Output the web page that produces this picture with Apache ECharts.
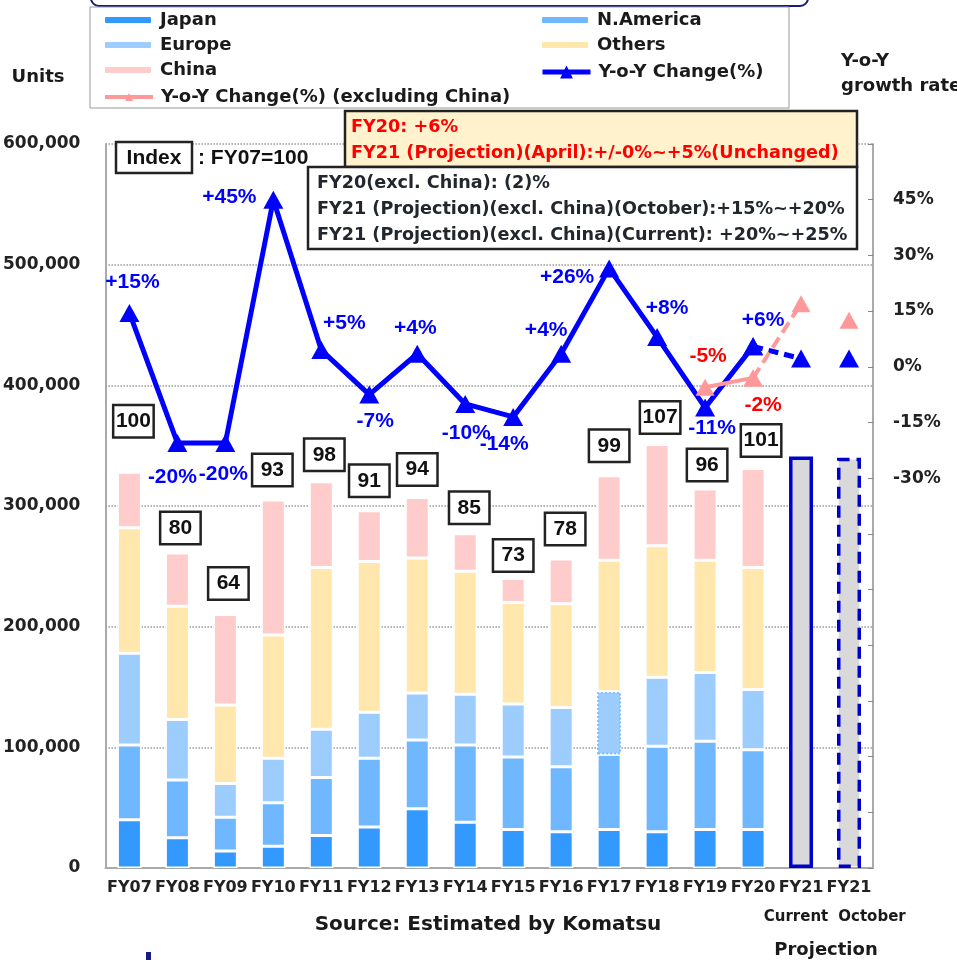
<!DOCTYPE html>
<html>
<head>
<meta charset="utf-8">
<script src="https://cdn.jsdelivr.net/npm/echarts@6/dist/echarts.min.js"></script>
<style>
html,body{margin:0;padding:0;background:#fff;}
#chart{width:957px;height:960px;}
</style>
</head>
<body>
<div id="chart"></div>
<script>
// 区分
var categories = ['FY07','FY08','FY09','FY10','FY11','FY12','FY13','FY14','FY15','FY16','FY17','FY18','FY19','FY20','FY21','FY21'];

// 台数（千台単位で読み取り）
var japan   = [40000,25000,14000,18000,27000,34000,49000,38000,32000,30000,32000,30000,32000,32000];
var america = [62000,48000,28000,36000,48000,57000,57000,64000,60000,54000,62000,71000,73000,66000];
var europe  = [76000,50000,28000,37000,40000,38000,39000,42000,44000,49000,52000,57000,57000,50000];
var others  = [104000,94000,65000,102000,134000,125000,112000,102000,84000,86000,109000,109000,93000,101000];
var china   = [46000,44000,75000,112000,71000,42000,50000,31000,20000,37000,70000,84000,59000,82000];
var projCurrent = 341000;
var projOctober = 340000;

var indexLabels = ['100','80','64','93','98','91','94','85','73','78','99','107','96','101'];

// 前年比
var yoy = [14.5,-20.5,-20.5,45,4.5,-7.5,3.5,-10,-13.5,3.5,26.5,8,-11,5.5];
var yoyLabels = ['+15%','-20%','-20%','+45%','+5%','-7%','+4%','-10%','-14%','+4%','+26%','+8%','-11%','+6%'];
var yoyCurrent = 2.2;
var yoyOctober = 2.2;

// 前年比（中国除く）FY19, FY20
var exChina = [-5.5,-3];
var exChinaLabels = ['-5%','-2%'];
var exChinaCurrent = 17;
var exChinaOctober = 12.5;

var rightTicks = [-30,-15,0,15,30,45];

// label layout (not data)
var yoyLabelOffset = [[3,-31],[-5,34],[-2,31],[-44,-2],[23,-27],[6,27],[-2,-26],[1,29],[-9,27],[-15,-24],[-42,9],[10,-29],[7,21],[10,-26]];
var exLabelOffset = [[3,-31],[10,27]];
var idxGap = [36,10,16,15,12,15,13,11,8,15,15,12,9,13];
var idxDx = [4,3,3,-1,3,0,0,4,0,4,0,3,2,8];

var ARIAL = 'Liberation Sans, Arial, sans-serif';
var DEJA = 'DejaVu Sans, sans-serif';
var N = categories.length;

function fill(arr, start){
	var out = [];
	for(var i=0;i<N;i++){
		var k = i - start;
		out.push(k>=0 && k<arr.length ? arr[k] : '-');
	}
	return out;
}
function only(idx, v){
	var out = [];
	for(var i=0;i<N;i++){ out.push(i===idx ? v : '-'); }
	return out;
}

var myChart = echarts.init(document.getElementById('chart'));

function barSeries(name, data, color){
	return {
		name:name, type:'bar', stack:'total', barWidth:24,
		itemStyle:{color:color, borderColor:'#fff', borderWidth:1.5},
		data:fill(data,0), z:2
	};
}

var europeSeries = barSeries('Europe', europe, '#9dcdff');
europeSeries.data[10] = {value:europe[10], itemStyle:{borderColor:'#80bfff', borderType:'dotted', borderWidth:2}};

var chinaSeries = barSeries('China', china, '#ffcccc');
chinaSeries.data = chinaSeries.data.map(function(v,i){
	if(v==='-') return v;
	return {value:v, label:{distance:idxGap[i], offset:[idxDx[i],0]}};
});
chinaSeries.label = {
	show:true, position:'top',
	formatter:function(p){ return indexLabels[p.dataIndex]; },
	fontFamily:ARIAL, fontWeight:'bold', fontSize:21, color:'#111',
	backgroundColor:'#fff', borderColor:'#222', borderWidth:2.5,
	width:36, align:'center', lineHeight:22, padding:[4,1,4,1]
};

var projData = only(14, {value:projCurrent, itemStyle:{borderType:'solid'}});
projData[15] = {value:projOctober, itemStyle:{borderType:[12,7]}};

var yoyData = fill(yoy,0).map(function(v,i){
	if(v==='-') return v;
	return {value:v, label:{offset:yoyLabelOffset[i]}};
});
var exData = fill(exChina,12).map(function(v,i){
	if(v==='-') return v;
	return {value:v, label:{offset:exLabelOffset[i-12]}};
});
var yoyProj = only(13, yoy[13]); yoyProj[14] = yoyCurrent;
var exProj = only(13, exChina[1]); exProj[14] = exChinaCurrent;

var lineLabel = {show:true, position:'inside', fontFamily:ARIAL, fontWeight:'bold', fontSize:21};
var legendText = {fontFamily:DEJA, fontWeight:'bold', fontSize:18, color:'#1a1a1a', lineHeight:20, padding:[0,0,0,3]};

function legend(left, top, h, data){
	return {
		orient:'vertical', left:left, top:top, padding:0,
		itemWidth:48, itemHeight:h, itemGap:5,
		selectedMode:false, data:data, textStyle:legendText
	};
}

myChart.setOption({
	animation:false,
	textStyle:{fontFamily:DEJA},
	grid:{left:103, right:84, top:144, bottom:92},
	legend:[
		legend(103, 9, 8, ['Japan','Europe','China']),
		legend(103, 85, 10, [{name:'Y-o-Y Change(%) (excluding China)', lineStyle:{width:4}}]),
		legend(540, 9, 8, ['N.America','Others']),
		legend(540, 60, 16, [{name:'Y-o-Y Change(%)', lineStyle:{width:5}}])
	].map(function(l, i){ l.top += (i % 2 === 0) ? 1 : 2; return l; }),
	xAxis:{
		type:'category', data:categories,
		axisLine:{lineStyle:{color:'#aaa', width:2}},
		axisTick:{inside:true, length:5, lineStyle:{color:'#aaa'}},
		axisLabel:{interval:0, margin:12, fontFamily:DEJA, fontWeight:'bold', fontSize:16, color:'#222'}
	},
	yAxis:[{
		type:'value', min:0, max:600000, interval:100000,
		axisLine:{show:true, lineStyle:{color:'#aaa', width:2}},
		axisTick:{show:false},
		axisLabel:{margin:25, fontFamily:DEJA, fontWeight:'bold', fontSize:17, color:'#222',
			formatter:function(v){ return v.toLocaleString('en-US'); }},
		splitLine:{lineStyle:{color:'#999', type:'dotted', width:1.5}}
	},{
		type:'value', position:'right', min:-135, max:60, interval:15,
		axisLine:{show:true, lineStyle:{color:'#aaa', width:2}},
		axisTick:{show:true, inside:true, length:5, lineStyle:{color:'#888'}},
		axisLabel:{margin:20, fontFamily:DEJA, fontWeight:'bold', fontSize:17, color:'#222',
			formatter:function(v){ return rightTicks.indexOf(v)>=0 ? v+'%' : ''; }},
		splitLine:{show:false}
	}],
	series:[
		barSeries('Japan', japan, '#3399ff'),
		barSeries('N.America', america, '#6fb7ff'),
		europeSeries,
		barSeries('Others', others, '#ffe7ad'),
		chinaSeries,
		{
			name:'Projection', type:'bar', stack:'total', barWidth:22, z:2,
			itemStyle:{color:'#d9d9dc', borderColor:'#0000cc', borderWidth:3.5},
			data:projData
		},
		{
			name:'Y-o-Y Change(%)', type:'line', yAxisIndex:1, z:5,
			symbol:'triangle', symbolSize:[20,18],
			lineStyle:{color:'#0000ff', width:5}, itemStyle:{color:'#0000ff'},
			label:Object.assign({color:'#0000ff', formatter:function(p){ return yoyLabels[p.dataIndex]; }}, lineLabel),
			data:yoyData
		},
		{
			name:'yoyProj', type:'line', yAxisIndex:1, z:5,
			symbol:'triangle', symbolSize:[20,18],
			lineStyle:{color:'#0000ff', width:5, type:[10,6]}, itemStyle:{color:'#0000ff'},
			data:yoyProj
		},
		{
			name:'yoyOct', type:'line', yAxisIndex:1, z:5,
			symbol:'triangle', symbolSize:[20,18], showSymbol:true,
			itemStyle:{color:'#0000ff'},
			data:only(15, yoyOctober)
		},
		{
			name:'exProj', type:'line', yAxisIndex:1, z:6,
			symbol:'triangle', symbolSize:[19,17],
			lineStyle:{color:'#ff9999', width:4, type:[12,6]}, itemStyle:{color:'#ff9999'},
			data:exProj
		},
		{
			name:'Y-o-Y Change(%) (excluding China)', type:'line', yAxisIndex:1, z:6,
			symbol:'triangle', symbolSize:[19,17],
			lineStyle:{color:'#ff9999', width:4}, itemStyle:{color:'#ff9999'},
			label:Object.assign({color:'#ff0000', formatter:function(p){ return exChinaLabels[p.dataIndex-12]; }}, lineLabel),
			data:exData
		},
		{
			name:'exOct', type:'line', yAxisIndex:1, z:6,
			symbol:'triangle', symbolSize:[19,17], showSymbol:true,
			itemStyle:{color:'#ff9999'},
			data:only(15, exChinaOctober)
		}
	],
	graphic:[
		{type:'rect', z:0, shape:{x:91, y:-20, width:717, height:26, r:8}, style:{fill:'#fff', stroke:'#1a1a80', lineWidth:2}},
		{type:'rect', z:0, shape:{x:90, y:7, width:699, height:101}, style:{fill:'#fff', stroke:'#999', lineWidth:1}},
		{type:'text', z:10, style:{text:'Units', x:38, y:77, align:'center', verticalAlign:'middle', fontFamily:DEJA, fontWeight:'bold', fontSize:18, fill:'#1a1a1a'}},
		{type:'text', z:10, style:{text:'Y-o-Y', x:841, y:61, align:'left', verticalAlign:'middle', fontFamily:DEJA, fontWeight:'bold', fontSize:18, fill:'#1a1a1a'}},
		{type:'text', z:10, style:{text:'growth rate', x:841, y:86, align:'left', verticalAlign:'middle', fontFamily:DEJA, fontWeight:'bold', fontSize:18, fill:'#1a1a1a'}},
		// Index box
		{type:'rect', z:10, shape:{x:116, y:142, width:76, height:31}, style:{fill:'#fff', stroke:'#222', lineWidth:2.5}},
		{type:'text', z:11, style:{text:'Index', x:154, y:158, align:'center', verticalAlign:'middle', fontFamily:ARIAL, fontWeight:'bold', fontSize:21, fill:'#111'}},
		{type:'text', z:11, style:{text:': FY07=100', x:198, y:158, align:'left', verticalAlign:'middle', fontFamily:ARIAL, fontWeight:'bold', fontSize:21, fill:'#111'}},
		// red box
		{type:'rect', z:10, shape:{x:345, y:111, width:512, height:56}, style:{fill:'#fff2cc', stroke:'#222', lineWidth:2.5}},
		{type:'text', z:11, style:{text:'FY20: +6%', x:351, y:127, align:'left', verticalAlign:'middle', fontFamily:DEJA, fontWeight:'bold', fontSize:17.6, fill:'#ff0000'}},
		{type:'text', z:11, style:{text:'FY21 (Projection)(April):+/-0%~+5%(Unchanged)', x:351, y:153, align:'left', verticalAlign:'middle', fontFamily:DEJA, fontWeight:'bold', fontSize:17.6, fill:'#ff0000'}},
		// white box
		{type:'rect', z:10, shape:{x:308, y:167, width:549, height:82}, style:{fill:'#fff', stroke:'#222', lineWidth:2.5}},
		{type:'text', z:11, style:{text:'FY20(excl. China): (2)%', x:317, y:183, align:'left', verticalAlign:'middle', fontFamily:DEJA, fontWeight:'bold', fontSize:17.6, fill:'#22272e'}},
		{type:'text', z:11, style:{text:'FY21 (Projection)(excl. China)(October):+15%~+20%', x:317, y:209, align:'left', verticalAlign:'middle', fontFamily:DEJA, fontWeight:'bold', fontSize:17.6, fill:'#22272e'}},
		{type:'text', z:11, style:{text:'FY21 (Projection)(excl. China)(Current): +20%~+25%', x:317, y:235, align:'left', verticalAlign:'middle', fontFamily:DEJA, fontWeight:'bold', fontSize:17.6, fill:'#22272e'}},
		// bottom texts
		{type:'text', z:10, style:{text:'Source: Estimated by Komatsu', x:488, y:925, align:'center', verticalAlign:'middle', fontFamily:DEJA, fontWeight:'bold', fontSize:20, fill:'#1a1a1a'}},
		{type:'text', z:10, style:{text:'Current', x:796, y:917, align:'center', verticalAlign:'middle', fontFamily:DEJA, fontWeight:'bold', fontSize:15, fill:'#1a1a1a'}},
		{type:'text', z:10, style:{text:'October', x:872, y:917, align:'center', verticalAlign:'middle', fontFamily:DEJA, fontWeight:'bold', fontSize:15, fill:'#1a1a1a'}},
		{type:'text', z:10, style:{text:'Projection', x:826, y:950, align:'center', verticalAlign:'middle', fontFamily:DEJA, fontWeight:'bold', fontSize:18, fill:'#1a1a1a'}},
		{type:'rect', z:10, shape:{x:146, y:952, width:5, height:8}, style:{fill:'#1a1a80'}}
	]
});
</script>
</body>
</html>
